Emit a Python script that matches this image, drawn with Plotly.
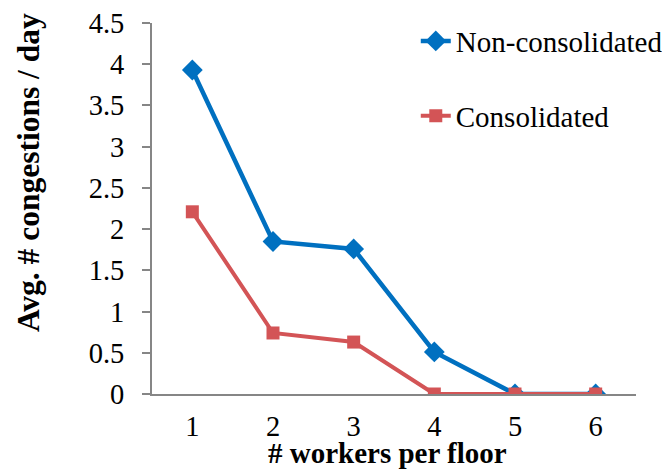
import plotly.graph_objects as go

workers = [1, 2, 3, 4, 5, 6]
non_consolidated = [3.93, 1.85, 1.76, 0.51, 0.0, 0.0]
consolidated = [2.21, 0.74, 0.63, 0.0, 0.0, 0.0]
y_ticks = [0, 0.5, 1, 1.5, 2, 2.5, 3, 3.5, 4, 4.5]
y_tick_labels = ["0", "0.5", "1", "1.5", "2", "2.5", "3", "3.5", "4", "4.5"]
x_title = "# workers per floor"
y_title = "Avg. # congestions / day"

FONT = "Liberation Serif"
BLUE = "#0070C0"
RED = "#D35456"
GRAY = "#868686"

fig = go.Figure()
fig.add_trace(go.Scatter(x=workers, y=non_consolidated, mode="lines+markers",
                         name="Non-consolidated", legendgroup="a",
                         line=dict(color=BLUE, width=4.5),
                         marker=dict(symbol="diamond", size=16, color=BLUE)))
fig.add_trace(go.Scatter(x=workers, y=consolidated, mode="lines+markers",
                         name="Consolidated", legendgroup="b",
                         line=dict(color=RED, width=4),
                         marker=dict(symbol="square", size=13, color=RED)))

fig.update_layout(
    width=662, height=463,
    margin=dict(l=144, r=34, t=15, b=77, autoexpand=False),
    paper_bgcolor="white", plot_bgcolor="white",
    font=dict(family=FONT, size=28, color="black"),
    showlegend=True,
    legend=dict(x=0.545, y=1.02, xanchor="left", yanchor="top",
                font=dict(family=FONT, size=29, color="black"),
                tracegroupgap=34, bgcolor="rgba(0,0,0,0)"),
)
fig.update_xaxes(range=[0.5, 6.5], tickvals=workers, ticktext=[str(w) for w in workers],
                 showgrid=False, zeroline=False, showline=True, linecolor=GRAY, linewidth=2,
                 ticks="", ticklabelstandoff=6, automargin=False, ticklabeloverflow="allow",
                 tickfont=dict(family=FONT, size=28.5))
fig.update_yaxes(range=[0, 4.5], tickvals=y_ticks, ticktext=y_tick_labels,
                 showgrid=False, zeroline=False,
                 showline=True, linecolor=GRAY, linewidth=2,
                 ticks="outside", ticklen=8, tickcolor=GRAY, tickwidth=2,
                 ticklabelstandoff=12, automargin=False, ticklabeloverflow="allow",
                 tickfont=dict(family=FONT, size=28.5))

# axis titles placed as annotations (paper coords) to match the original offsets
fig.add_annotation(text="<b>" + y_title + "</b>", textangle=-90,
                   xref="paper", yref="paper", x=-0.255, y=0.597,
                   xanchor="center", yanchor="middle", showarrow=False,
                   font=dict(family=FONT, size=31.5, color="black"))
fig.add_annotation(text="<b>" + x_title + "</b>",
                   xref="paper", yref="paper", x=0.487, y=-0.2075,
                   xanchor="center", yanchor="bottom", showarrow=False,
                   font=dict(family=FONT, size=29, color="black"))

fig.write_html("out.html")
